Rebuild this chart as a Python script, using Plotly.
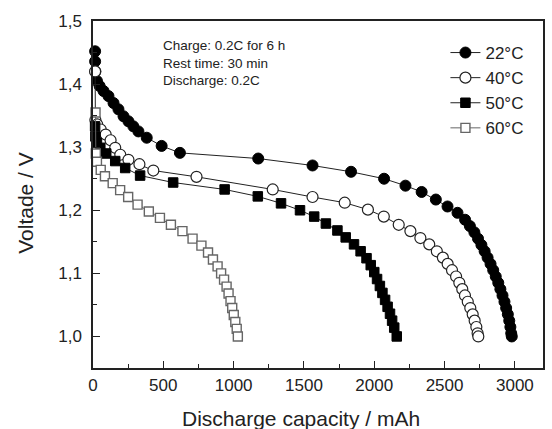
import plotly.graph_objects as go

# Discharge curves: capacity (mAh) and cell voltage (V) per temperature
cap_22 = [15, 15, 17, 28, 47, 75, 110, 146, 181, 217, 252, 287, 323, 382, 488, 618,
          1175, 1561, 1835, 2070, 2222, 2337, 2438, 2521, 2592, 2646, 2680, 2712,
          2738, 2762, 2785, 2806, 2827, 2846, 2864, 2882, 2897, 2912, 2926, 2938,
          2950, 2960, 2968, 2974, 2978]
volt_22 = [1.452, 1.436, 1.420, 1.405, 1.397, 1.389, 1.381, 1.370, 1.360, 1.349,
           1.341, 1.333, 1.325, 1.315, 1.302, 1.291, 1.282, 1.271, 1.261, 1.250,
           1.239, 1.229, 1.217, 1.206, 1.196, 1.185, 1.175, 1.165, 1.155, 1.145,
           1.135, 1.125, 1.115, 1.105, 1.095, 1.085, 1.075, 1.065, 1.055, 1.045,
           1.035, 1.025, 1.015, 1.005, 1.000]

cap_40 = [15, 17, 30, 55, 90, 125, 158, 194, 252, 330, 429, 736, 1278, 1561, 1790,
          1955, 2068, 2174, 2257, 2328, 2391, 2445, 2488, 2522, 2553, 2582, 2605,
          2626, 2645, 2665, 2683, 2700, 2714, 2726, 2735, 2740]
volt_40 = [1.420, 1.343, 1.336, 1.328, 1.320, 1.311, 1.299, 1.288, 1.280, 1.273,
           1.263, 1.253, 1.233, 1.221, 1.212, 1.201, 1.190, 1.177, 1.167, 1.156,
           1.146, 1.135, 1.125, 1.115, 1.105, 1.095, 1.085, 1.075, 1.065, 1.055,
           1.045, 1.035, 1.025, 1.015, 1.005, 1.000]

cap_50 = [15, 17, 28, 52, 94, 158, 229, 335, 570, 936, 1172, 1337, 1472, 1573, 1656,
          1738, 1797, 1856, 1903, 1945, 1975, 2000, 2020, 2040, 2058, 2077, 2095,
          2112, 2127, 2142, 2160]
volt_50 = [1.333, 1.317, 1.307, 1.299, 1.290, 1.278, 1.267, 1.255, 1.244, 1.233,
           1.222, 1.211, 1.200, 1.190, 1.179, 1.168, 1.157, 1.146, 1.135, 1.124,
           1.113, 1.102, 1.091, 1.080, 1.069, 1.058, 1.047, 1.036, 1.025, 1.014,
           1.000]

cap_60 = [18, 20, 28, 55, 85, 140, 193, 250, 317, 397, 476, 554, 636, 708, 771, 818,
          853, 886, 911, 932, 950, 964, 978, 990, 1001, 1012, 1022, 1030]
volt_60 = [1.355, 1.290, 1.277, 1.264, 1.254, 1.243, 1.232, 1.221, 1.209, 1.198,
           1.188, 1.177, 1.167, 1.155, 1.144, 1.133, 1.122, 1.111, 1.100, 1.090,
           1.079, 1.068, 1.056, 1.045, 1.034, 1.023, 1.012, 1.000]

series_names = ["22°C", "40°C", "50°C", "60°C"]

x_tickvals = [0, 500, 1000, 1500, 2000, 2500, 3000]
x_ticktext = ["0", "500", "1000", "1500", "2000", "2500", "3000"]
y_tickvals = [1.0, 1.1, 1.2, 1.3, 1.4, 1.5]
y_ticktext = ["1,0", "1,1", "1,2", "1,3", "1,4", "1,5"]

condition_lines = ["Charge: 0.2C for 6 h", "Rest time: 30 min", "Discharge: 0.2C"]

FONT = "Liberation Sans, Arial, sans-serif"

styles = [
    dict(symbol="circle", size=11, color="black", line=dict(color="black", width=1)),
    dict(symbol="circle", size=11, color="white", line=dict(color="#222", width=1.2)),
    dict(symbol="square", size=9.5, color="black", line=dict(color="black", width=1)),
    dict(symbol="square", size=9, color="white", line=dict(color="#666", width=1.4)),
]
line_colors = ["#222", "#222", "#222", "#666"]

fig = go.Figure()
for name, xs, ys, mk, lc in zip(series_names,
                                [cap_22, cap_40, cap_50, cap_60],
                                [volt_22, volt_40, volt_50, volt_60],
                                styles, line_colors):
    fig.add_trace(go.Scatter(
        x=xs, y=ys, name=name, mode="lines+markers",
        line=dict(color=lc, width=1),
        marker=mk, cliponaxis=False,
    ))

L, R, T, B = 93, 7, 21, 61
W, H = 552, 429
pw, ph = W - L - R, H - T - B

def px_x(px):
    return (px - L) / pw

def px_y(py):
    return (H - B - py) / ph

axis_common = dict(
    showgrid=False, zeroline=False, showline=True, linecolor="#222", linewidth=1.5,
    mirror=True, ticks="inside", ticklen=7, tickwidth=1.2, tickcolor="#222",
    tickfont=dict(family=FONT, size=17, color="#222"),
)

fig.update_xaxes(
    range=[0, 3200], tickmode="array", tickvals=x_tickvals, ticktext=x_ticktext,
    ticklabelstandoff=1,
    minor=dict(ticks="inside", ticklen=4, tickwidth=1.2, tickcolor="#222", dtick=250, tick0=0),
    **axis_common,
)
fig.update_yaxes(
    range=[0.95, 1.5], tickmode="array", tickvals=y_tickvals, ticktext=y_ticktext,
    ticklabelstandoff=6,
    minor=dict(ticks="inside", ticklen=4, tickwidth=1.2, tickcolor="#222", dtick=0.05, tick0=0),
    **axis_common,
)

fig.add_annotation(
    text="Discharge capacity / mAh", xref="paper", yref="paper",
    x=px_x(302), y=px_y(418), xanchor="center", yanchor="middle", showarrow=False,
    font=dict(family=FONT, size=21, color="#222"),
)
fig.add_annotation(
    text="Voltade / V", xref="paper", yref="paper", textangle=-90,
    x=px_x(24.5), y=px_y(203), xanchor="center", yanchor="middle", showarrow=False,
    font=dict(family=FONT, size=21, color="#222"),
)
fig.add_annotation(
    text="<br>".join(condition_lines), xref="paper", yref="paper",
    x=px_x(161), y=px_y(36), xanchor="left", yanchor="top", align="left",
    showarrow=False, font=dict(family=FONT, size=13.5, color="#222"),
)

fig.update_layout(
    width=W, height=H, margin=dict(l=L, r=R, t=T, b=B),
    paper_bgcolor="white", plot_bgcolor="white",
    showlegend=True,
    legend=dict(
        x=px_x(447), y=px_y(35), xanchor="left", yanchor="top",
        bgcolor="rgba(0,0,0,0)", borderwidth=0,
        font=dict(family=FONT, size=17, color="#222"),
    ),
)

fig.write_html("out.html")
